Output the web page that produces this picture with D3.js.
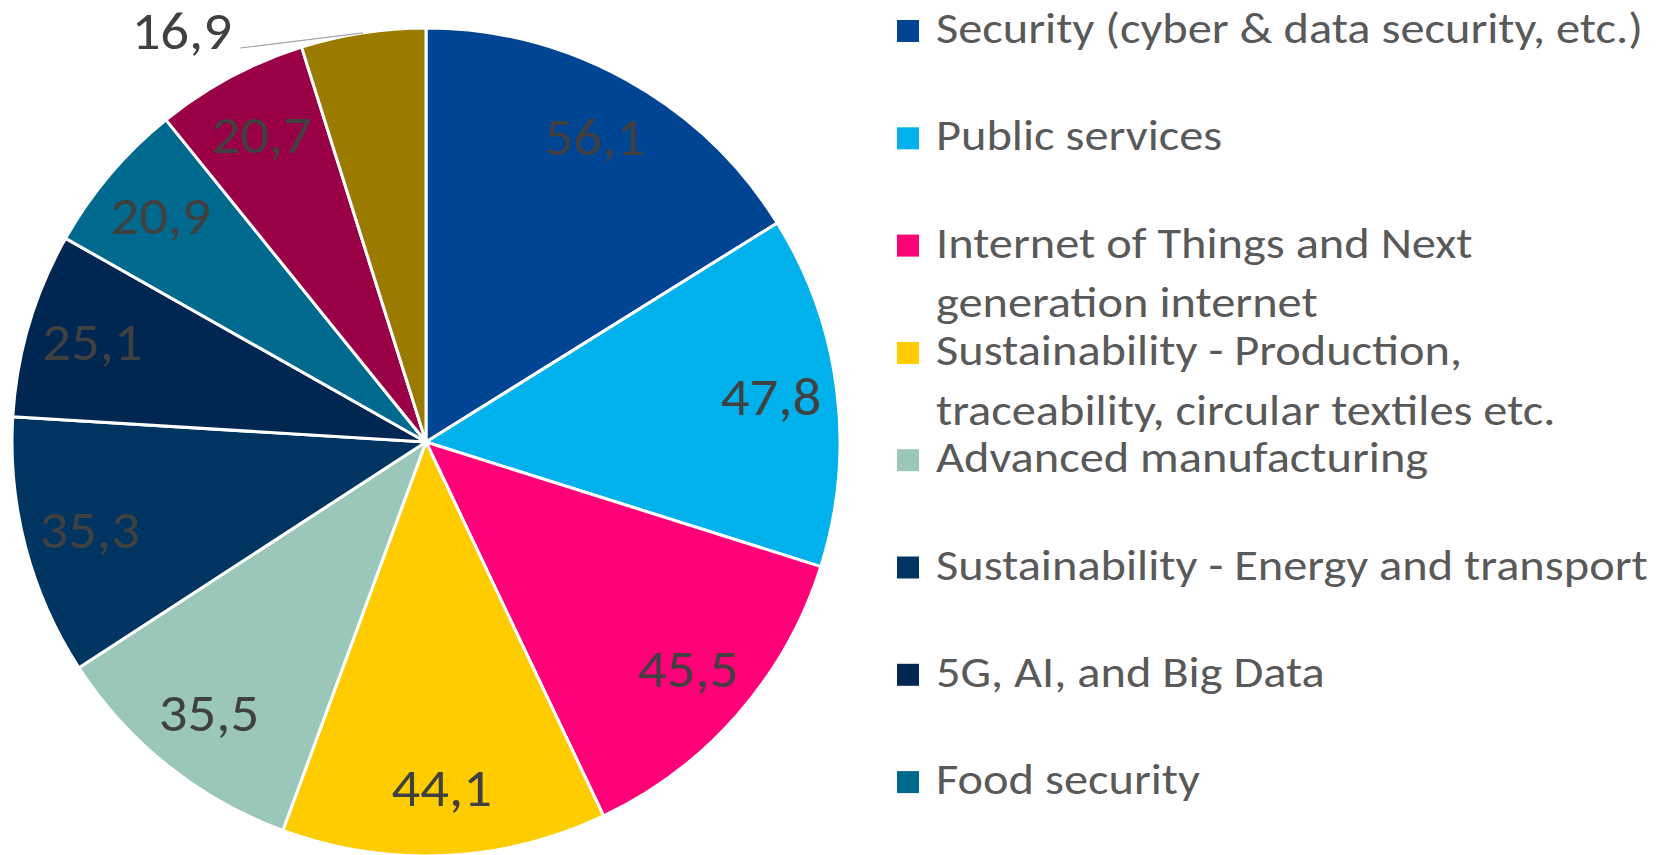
<!DOCTYPE html>
<html>
<head>
<meta charset="utf-8">
<script src="https://cdn.jsdelivr.net/npm/d3@7"></script>
<style>
  body { margin: 0; background: #fff; }
  svg { display: block; }
</style>
</head>
<body>
<div id="chart"></div>
<script>
const values = [56.1, 47.8, 45.5, 44.1, 35.5, 35.3, 25.1, 20.9, 20.7, 16.9];
const colors = ["#004494", "#00B1EB", "#FF0078", "#FFCC00", "#9BC7BA",
                "#003562", "#002752", "#006A8E", "#990045", "#9A7B00"];
const legendLabels = [
    ["Security (cyber & data security, etc.)"],
    ["Public services"],
    ["Internet of Things and Next", "generation internet"],
    ["Sustainability - Production,", "traceability, circular textiles etc."],
    ["Advanced manufacturing"],
    ["Sustainability - Energy and transport"],
    ["5G, AI, and Big Data"],
    ["Food security"]
];

const width = 1658, height = 855;
const cx = 426, cy = 442, radius = 414;
const font = "Carlito, Lato, 'Open Sans', sans-serif";

const fmt = d3.formatLocale({decimal: ",", thousands: ".", grouping: [3], currency: ["", ""]}).format(".1f");

const svg = d3.select("#chart")
    .append("svg")
    .attr("width", width)
    .attr("height", height);

const g = svg.append("g")
    .attr("transform", `translate(${cx}, ${cy})`);

const pie = d3.pie().sort(null).value(d => d);
const arcs = pie(values);
const arc = d3.arc().innerRadius(0).outerRadius(radius);
const labelArc = d3.arc().innerRadius(radius * 0.84).outerRadius(radius * 0.84);

g.selectAll("path")
    .data(arcs)
    .enter()
    .append("path")
    .attr("d", arc)
    .attr("fill", (d, i) => colors[i])
    .attr("stroke", "#fff")
    .attr("stroke-width", 3)
    .attr("stroke-linejoin", "round");

// labels inside, the last (small) one goes outside with a leader line
const inside = arcs.slice(0, arcs.length - 1);
g.selectAll("text.inner")
    .data(inside)
    .enter()
    .append("text")
    .attr("class", "inner")
    .attr("transform", d => {
        const [x, y] = labelArc.centroid(d);
        return `translate(${x}, ${y + 17}) scale(1.05, 1)`;
    })
    .attr("text-anchor", "middle")
    .attr("font-family", font)
    .attr("font-size", 54)
    .attr("fill", "#404040")
    .text(d => fmt(d.value));

const last = arcs[arcs.length - 1];
const edge = d3.arc().innerRadius(radius).outerRadius(radius).centroid(last);
g.append("polyline")
    .attr("points", [edge, [240 - cx, 48 - cy]].map(p => p.join(",")).join(" "))
    .attr("fill", "none")
    .attr("stroke", "#a6a6a6")
    .attr("stroke-width", 1.2);
g.append("text")
    .attr("transform", `translate(${232 - cx}, ${49 - cy}) scale(1.05, 1)`)
    .attr("text-anchor", "end")
    .attr("font-family", font)
    .attr("font-size", 54)
    .attr("fill", "#404040")
    .text(fmt(last.value));

/* Legend */
const legend = svg.append("g")
    .attr("transform", "translate(897, 31)");

const items = legend.selectAll("g.item")
    .data(legendLabels)
    .enter()
    .append("g")
    .attr("class", "item")
    .attr("transform", (d, i) => `translate(0, ${i * 107.3})`);

items.append("rect")
    .attr("x", 0)
    .attr("y", -11)
    .attr("width", 22)
    .attr("height", 22)
    .attr("fill", (d, i) => colors[i]);

items.each(function (lines) {
    lines.forEach((line, j) => {
        d3.select(this).append("text")
            .attr("transform", `translate(39, ${12 + j * 59.6}) scale(1.1, 1)`)
            .attr("font-family", font)
            .attr("font-size", 44)
            .attr("fill", "#595959")
            .text(line);
    });
});
</script>
</body>
</html>
